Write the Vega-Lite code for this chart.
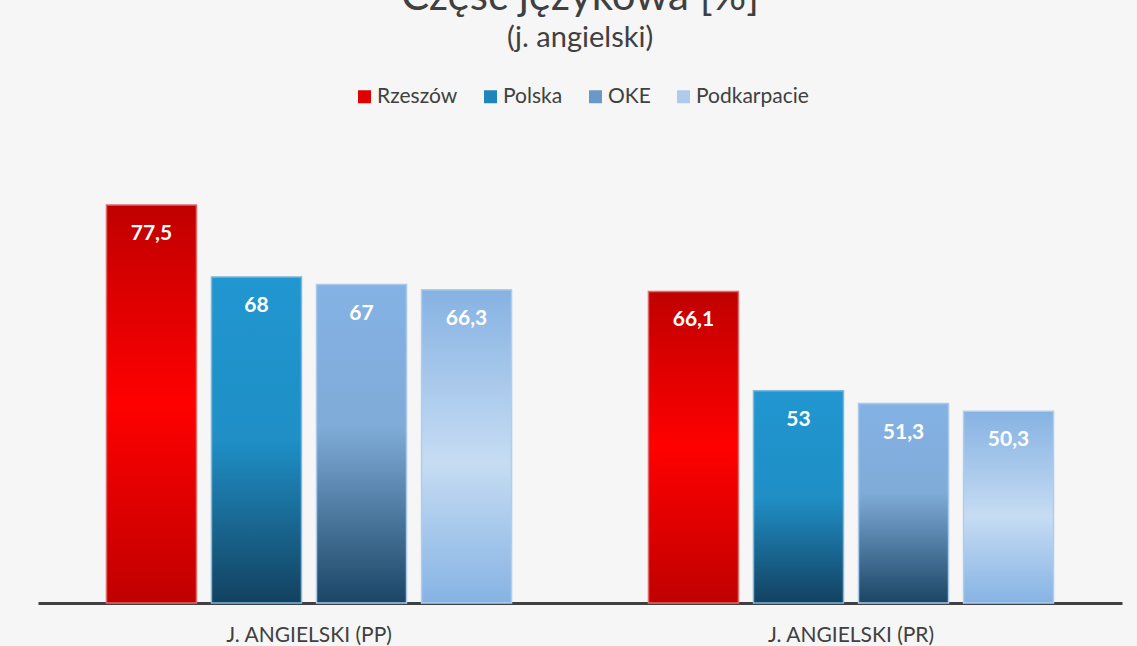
{
  "$schema": "https://vega.github.io/schema/vega-lite/v6.json",
  "width": 1084,
  "height": 417,
  "autosize": {"type": "none"},
  "padding": {"left": 38, "top": 186, "right": 15, "bottom": 43},
  "background": "#f6f6f6",
  "title": {
    "text": "Część językowa [%]",
    "subtitle": "(j. angielski)",
    "anchor": "middle",
    "font": "Lato",
    "fontSize": 42,
    "fontWeight": "normal",
    "color": "#404040",
    "subtitleFont": "Lato",
    "subtitleFontSize": 29,
    "subtitleColor": "#404040",
    "subtitlePadding": 5,
    "offset": 32
  },
  "data": {
    "values": [
      {"category": "J. ANGIELSKI (PP)", "series": "Rzeszów", "value": 77.5, "label": "77,5"},
      {"category": "J. ANGIELSKI (PP)", "series": "Polska", "value": 68, "label": "68"},
      {"category": "J. ANGIELSKI (PP)", "series": "OKE", "value": 67, "label": "67"},
      {"category": "J. ANGIELSKI (PP)", "series": "Podkarpacie", "value": 66.3, "label": "66,3"},
      {"category": "J. ANGIELSKI (PR)", "series": "Rzeszów", "value": 66.1, "label": "66,1"},
      {"category": "J. ANGIELSKI (PR)", "series": "Polska", "value": 53, "label": "53"},
      {"category": "J. ANGIELSKI (PR)", "series": "OKE", "value": 51.3, "label": "51,3"},
      {"category": "J. ANGIELSKI (PR)", "series": "Podkarpacie", "value": 50.3, "label": "50,3"}
    ]
  },
  "encoding": {
    "x": {
      "field": "category",
      "type": "nominal",
      "scale": {"paddingInner": 0, "paddingOuter": 0},
      "axis": {
        "title": null,
        "labelAngle": 0,
        "domain": true,
        "domainColor": "#404040",
        "domainWidth": 3,
        "ticks": false,
        "labelFont": "Lato",
        "labelFontSize": 21,
        "labelColor": "#404040",
        "labelPadding": 21
      }
    },
    "xOffset": {
      "field": "series",
      "type": "nominal",
      "sort": ["Rzeszów", "Polska", "OKE", "Podkarpacie"],
      "scale": {"paddingInner": 0.143, "paddingOuter": 0.652}
    },
    "y": {"field": "value", "type": "quantitative", "scale": {"domain": [25, 80], "zero": false}, "axis": null}
  },
  "layer": [
    {
      "mark": {"type": "bar", "opacity": 0},
      "encoding": {
        "y2": {"datum": 25},
        "fill": {
          "field": "series",
          "type": "nominal",
          "sort": ["Rzeszów", "Polska", "OKE", "Podkarpacie"],
          "scale": {
            "domain": ["Rzeszów", "Polska", "OKE", "Podkarpacie"],
            "range": ["#e00000", "#1f86bb", "#6a98c8", "#aecbee"]
          },
          "legend": {
            "orient": "none",
            "legendX": 316,
            "legendY": -100,
            "title": null,
            "direction": "horizontal",
            "symbolType": "square",
            "symbolSize": 169,
            "symbolStrokeWidth": 0,
            "symbolOpacity": 1,
            "labelFont": "Lato",
            "labelFontSize": 21,
            "labelColor": "#404040",
            "labelOffset": 2,
            "columnPadding": 22
          }
        }
      }
    },
    {
      "mark": {"type": "bar", "strokeWidth": 1.5},
      "encoding": {
        "y2": {"datum": 25},
        "fill": {
          "condition": [
            {"test": "datum.series === 'Rzeszów'", "value": {"gradient": "linear", "x1": 0, "y1": 0, "x2": 0, "y2": 1, "stops": [{"offset": 0, "color": "#c00000"}, {"offset": 0.5, "color": "#ff0000"}, {"offset": 1, "color": "#c00000"}]}},
            {"test": "datum.series === 'Polska'", "value": {"gradient": "linear", "x1": 0, "y1": 0, "x2": 0, "y2": 1, "stops": [{"offset": 0, "color": "#2196d0"}, {"offset": 0.5, "color": "#1f8fc6"}, {"offset": 1, "color": "#134160"}]}},
            {"test": "datum.series === 'OKE'", "value": {"gradient": "linear", "x1": 0, "y1": 0, "x2": 0, "y2": 1, "stops": [{"offset": 0, "color": "#84b2e4"}, {"offset": 0.45, "color": "#7fabd8"}, {"offset": 1, "color": "#1b4565"}]}}
          ],
          "value": {"gradient": "linear", "x1": 0, "y1": 0, "x2": 0, "y2": 1, "stops": [{"offset": 0, "color": "#86b2e2"}, {"offset": 0.55, "color": "#c6dcf3"}, {"offset": 1, "color": "#86b3e4"}]}
        },
        "stroke": {
          "condition": [
            {"test": "datum.series === 'Rzeszów'", "value": "#e06a6a"},
            {"test": "datum.series === 'Polska'", "value": "#7ab8dc"},
            {"test": "datum.series === 'OKE'", "value": "#a9c8ea"}
          ],
          "value": "#b0cdee"
        }
      }
    },
    {
      "mark": {"type": "text", "baseline": "middle", "dy": 29, "font": "Lato", "fontSize": 21, "fontWeight": "bold", "color": "#ffffff"},
      "encoding": {
        "text": {"field": "label", "type": "nominal"}
      }
    }
  ],
  "config": {"view": {"stroke": null}}
}
